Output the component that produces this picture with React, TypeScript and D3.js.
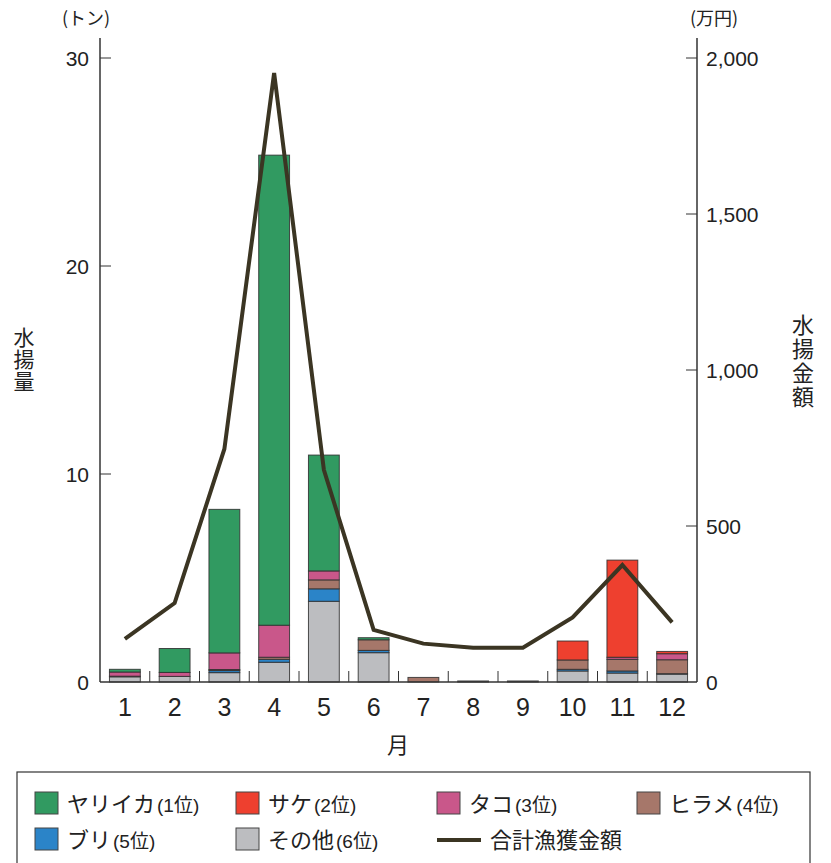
import React from "react";
import * as d3 from "d3";

const months = ["1", "2", "3", "4", "5", "6", "7", "8", "9", "10", "11", "12"];
// stack order bottom → top
const sonota = [0.25, 0.27, 0.45, 0.95, 3.88, 1.41, 0, 0.05, 0.05, 0.53, 0.43, 0.38];
const buri = [0, 0, 0.1, 0.14, 0.6, 0.11, 0, 0, 0, 0.08, 0.1, 0.02];
const hirame = [0.03, 0, 0.05, 0.1, 0.43, 0.51, 0.22, 0, 0, 0.45, 0.56, 0.67];
const tako = [0.2, 0.19, 0.8, 1.54, 0.43, 0, 0, 0, 0, 0, 0.1, 0.29];
const sake = [0, 0, 0, 0, 0, 0, 0, 0, 0, 0.91, 4.67, 0.11];
const yariika = [0.13, 1.15, 6.9, 22.6, 5.57, 0.1, 0, 0, 0, 0, 0, 0];
const kingaku = [138, 253, 747, 1952, 680, 167, 123, 110, 110, 207, 375, 191];

const leftTicks = [0, 10, 20, 30];
const rightTicks = [0, 500, 1000, 1500, 2000];

const seriesKeys = ["sonota", "buri", "hirame", "tako", "sake", "yariika"];
const seriesColors: Record<string, string> = {
  yariika: "#319a61",
  sake: "#ee402f",
  tako: "#c9578a",
  hirame: "#a6776a",
  buri: "#2b84c8",
  sonota: "#bcbdc0",
};
const legendItems = [
  { key: "yariika", name: "ヤリイカ", rank: "(1位)" },
  { key: "sake", name: "サケ", rank: "(2位)" },
  { key: "tako", name: "タコ", rank: "(3位)" },
  { key: "hirame", name: "ヒラメ", rank: "(4位)" },
  { key: "buri", name: "ブリ", rank: "(5位)" },
  { key: "sonota", name: "その他", rank: "(6位)" },
];
const lineLabel = "合計漁獲金額";

const FONT = "'Liberation Sans', 'Noto Sans CJK JP', sans-serif";
const JFONT = "'Noto Sans CJK JP', sans-serif";
const LINE_COLOR = "#3b3523";

export default function App() {
  const W = 831, H = 863;
  const x0 = 100, x1 = 697, yBase = 682, yTop = 58;

  const x = d3.scaleBand<string>().domain(months).range([x0, x1]).paddingInner(0.38).paddingOuter(0.19);
  const yL = d3.scaleLinear().domain([0, 30]).range([yBase, yTop]);
  const yR = d3.scaleLinear().domain([0, 2000]).range([yBase, yTop]);

  const table = months.map((m, i) => ({
    month: m,
    sonota: sonota[i], buri: buri[i], hirame: hirame[i], tako: tako[i], sake: sake[i], yariika: yariika[i],
  }));
  const stacked = d3.stack<any>().keys(seriesKeys)(table);

  const line = d3.line<number>()
    .x((_, i) => (x(months[i]) as number) + x.bandwidth() / 2)
    .y((d) => yR(d));

  const fmt = d3.format(",");

  const boundaries = d3.range(1, months.length).map((i) => x0 + i * (x1 - x0) / months.length);

  const legendCols = [35, 236, 437, 637];
  const legendRows = [792, 828];

  return (
    <svg width={W} height={H} style={{ display: "block", position: "absolute", left: 0, top: 0, background: "#fff" }}>
      {/* bars */}
      {stacked.map((s) => (
        <g key={s.key}>
          {s.map((d, i) => {
            const h = yL(d[0]) - yL(d[1]);
            if (h <= 0) return null;
            return (
              <rect
                key={i}
                x={x(months[i])}
                y={yL(d[1])}
                width={x.bandwidth()}
                height={h}
                fill={seriesColors[s.key]}
                stroke="#2e2e2e"
                strokeWidth={1}
                strokeOpacity={0.85}
              />
            );
          })}
        </g>
      ))}

      {/* x axis */}
      <line x1={x0} x2={x1} y1={yBase} y2={yBase} stroke="#333" strokeWidth={1.5} />
      {boundaries.map((b, i) => (
        <line key={i} x1={b} x2={b} y1={yBase} y2={yBase - 11} stroke="#333" strokeWidth={1} />
      ))}
      {months.map((m) => (
        <text key={m} x={(x(m) as number) + x.bandwidth() / 2} y={716} textAnchor="middle" fontSize={25} fontFamily={FONT} fill="#222">
          {m}
        </text>
      ))}
      <text x={398} y={753} textAnchor="middle" fontSize={22} fontFamily={JFONT} fill="#222">月</text>

      {/* left axis */}
      <line x1={x0} x2={x0} y1={38} y2={yBase} stroke="#333" strokeWidth={1.5} />
      {leftTicks.map((t) => (
        <g key={t}>
          {t > 0 && <line x1={x0} x2={x0 + 11} y1={yL(t)} y2={yL(t)} stroke="#333" strokeWidth={1} />}
          <text x={89} y={yL(t) + 8} textAnchor="end" fontSize={21} fontFamily={FONT} fill="#222">{t}</text>
        </g>
      ))}
      <text x={86} y={25} textAnchor="middle" fontSize={18} fontFamily={JFONT} fill="#222">(トン)</text>
      <text x={24} y={327} writingMode="vertical-rl" textAnchor="start" fontSize={21} letterSpacing={1} fontFamily={JFONT} fill="#222"
        style={{ writingMode: "vertical-rl" as any }}>水揚量</text>

      {/* right axis */}
      <line x1={x1} x2={x1} y1={38} y2={yBase} stroke="#333" strokeWidth={1.5} />
      {rightTicks.map((t) => (
        <g key={t}>
          {t > 0 && <line x1={x1 - 11} x2={x1} y1={yR(t)} y2={yR(t)} stroke="#333" strokeWidth={1} />}
          <text x={706} y={yR(t) + 8} textAnchor="start" fontSize={21} fontFamily={FONT} fill="#222">{fmt(t)}</text>
        </g>
      ))}
      <text x={714} y={25} textAnchor="middle" fontSize={18} fontFamily={JFONT} fill="#222">(万円)</text>
      <text x={803} y={314} writingMode="vertical-rl" textAnchor="start" fontSize={22} letterSpacing={2} fontFamily={JFONT} fill="#222"
        style={{ writingMode: "vertical-rl" as any }}>水揚金額</text>

      {/* line */}
      <path d={line(kingaku) || ""} fill="none" stroke={LINE_COLOR} strokeWidth={4} strokeLinejoin="miter" />

      {/* legend */}
      <rect x={17} y={772} width={793} height={120} fill="none" stroke="#333" strokeWidth={1.2} />
      {legendItems.map((it, i) => {
        const ry = legendRows[Math.floor(i / 4)];
        const col = legendCols[i % 4];
        return (
          <g key={it.key}>
            <rect x={col} y={ry} width={23} height={22} fill={seriesColors[it.key]} stroke="#444" strokeWidth={1} />
            <text x={col + 32} y={ry + 20} fontSize={22} fontFamily={JFONT} fill="#222">
              {it.name}
              <tspan fontSize={19} fontFamily={FONT} dx={2}>{it.rank}</tspan>
            </text>
          </g>
        );
      })}
      <line x1={437} x2={481} y1={840} y2={840} stroke={LINE_COLOR} strokeWidth={4} />
      <text x={490} y={848} fontSize={22} fontFamily={JFONT} fill="#222">{lineLabel}</text>
    </svg>
  );
}
